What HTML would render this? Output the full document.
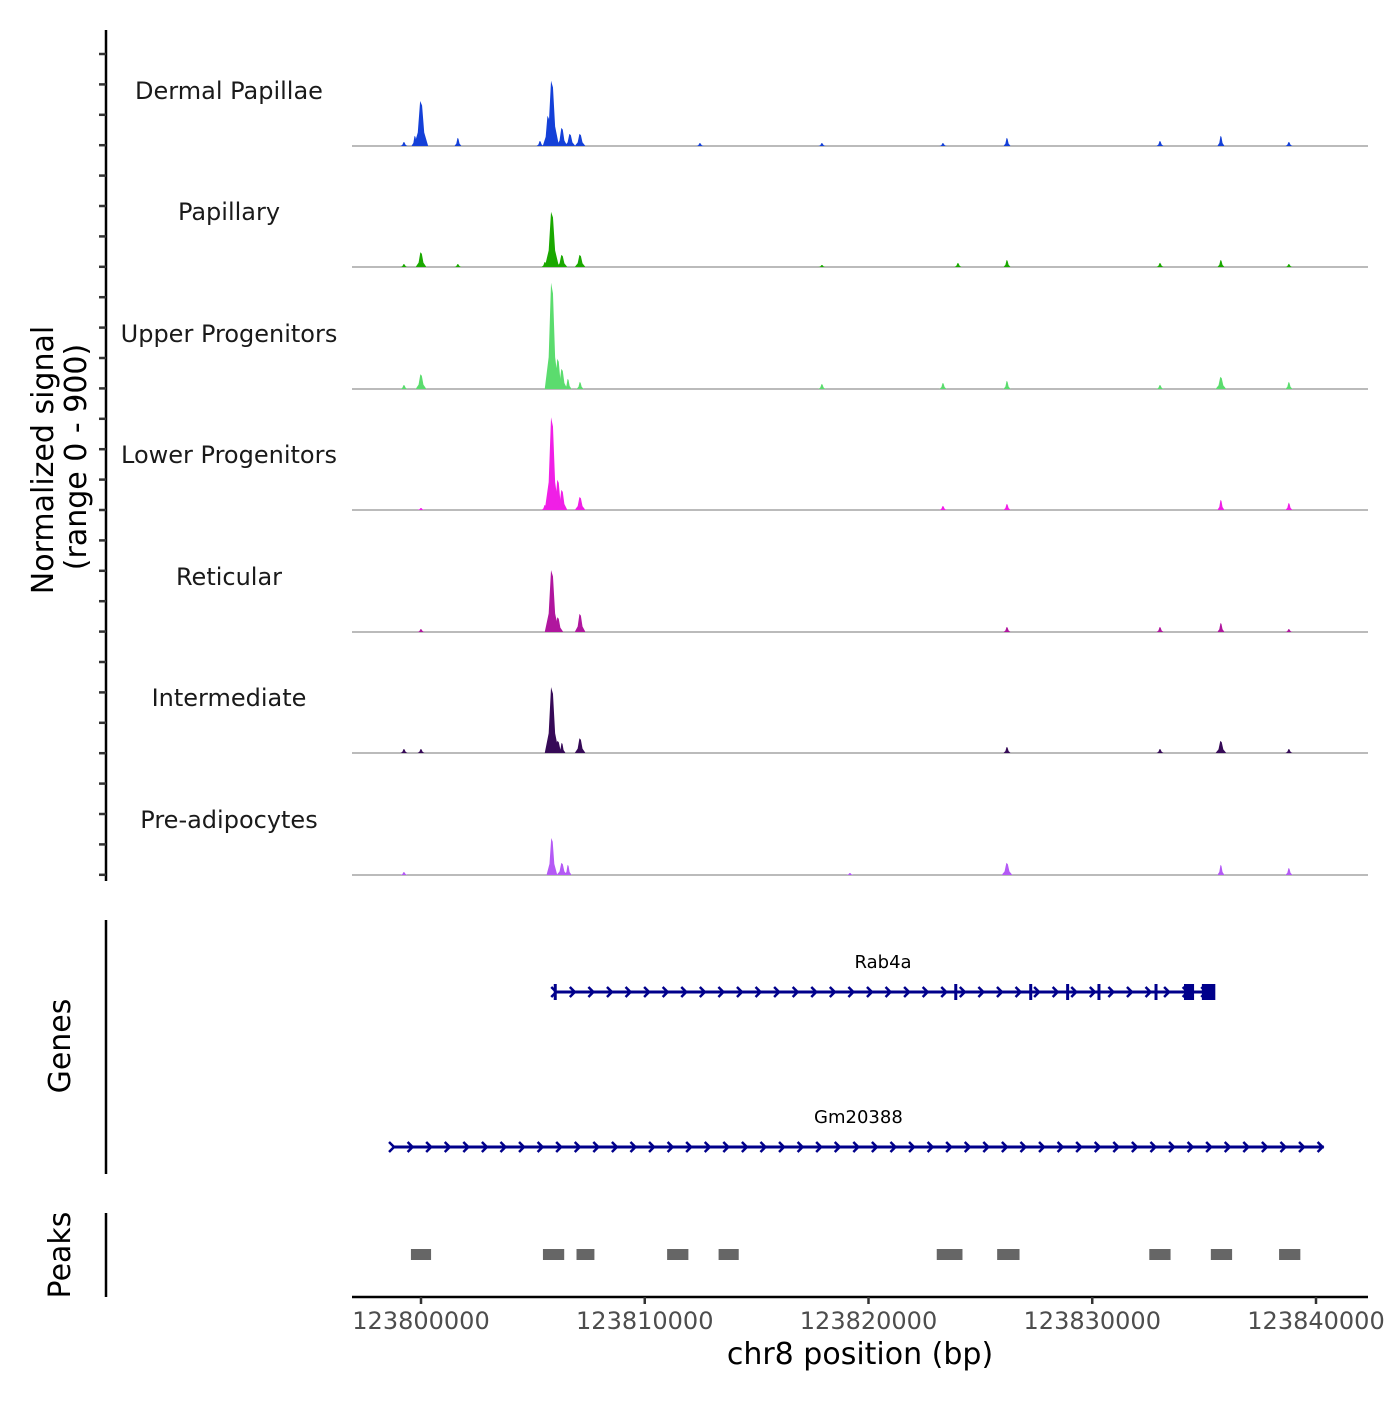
<!DOCTYPE html>
<html><head><meta charset="utf-8">
<style>
html,body{margin:0;padding:0;background:#fff;}
svg text{font-family:"DejaVu Sans","Liberation Sans",sans-serif;}
</style></head>
<body>
<svg id="chart" width="1400" height="1400" viewBox="0 0 1400 1400" xmlns="http://www.w3.org/2000/svg">
<g id="tracks"></g>
<g id="genes"></g>
<g id="peaks"></g>
<g id="axes"></g>
</svg>
<script>
// ---- data (positions in kb relative to 123800000, values in normalized signal 0-900) ----
const trackNames = ["Dermal Papillae","Papillary","Upper Progenitors","Lower Progenitors","Reticular","Intermediate","Pre-adipocytes"];
const trackColors = ["#1440d8","#1aa800","#5bdc6e","#f01fe6","#b0169e","#360a57","#b45af5"];
const peakPos = [
 [-0.76,-0.27,0,1.65,5.32,5.68,5.85,6.3,6.66,7.11,12.47,17.92,23.33,26.19,33.03,35.75,38.79],
 [-0.76,0,1.65,5.54,5.85,6.3,7.11,17.92,24.0,26.19,33.03,35.75,38.79],
 [-0.76,0,5.85,6.12,6.3,6.57,7.11,17.92,23.33,26.19,33.03,35.75,38.79],
 [0,5.54,5.85,6.12,6.3,7.11,23.33,26.19,35.75,38.79],
 [0,5.85,6.12,7.11,26.19,33.03,35.75,38.79],
 [-0.76,0,5.85,6.12,6.3,7.11,26.19,33.03,35.75,38.79],
 [-0.76,5.85,6.3,6.57,19.17,26.19,35.75,38.79]
];
const peakVal = [
 [30,75,335,60,37,225,485,135,90,90,22,22,22,60,37,75,30],
 [22,110,22,37,410,90,90,15,30,52,30,52,22],
 [30,110,790,225,150,75,52,37,45,60,30,90,52],
 [15,37,690,225,150,97,30,45,75,52],
 [22,460,110,135,37,37,67,22],
 [30,30,490,90,75,110,45,30,90,30],
 [22,275,90,75,15,90,75,52]
];
const genes = [
 {name:"Rab4a", start:6.0, end:35.3, exons:[6.0,23.9,27.25,28.9,30.3,32.85], boxes:[[34.1,34.55],[34.9,35.5]]},
 {name:"Gm20388", start:-1.25, end:40.35, exons:[], boxes:[]}
];
const peakStarts = [-0.45,5.45,6.95,11.0,13.3,23.05,25.75,32.55,35.3,38.35];
const peakEnds   = [0.45,6.4,7.75,11.95,14.2,24.2,26.75,33.5,36.25,39.3];
const xTicks = [0,10,20,30,40];
const xTickLabels = ["123800000","123810000","123820000","123830000","123840000"];

// ---- scales ----
const NS="http://www.w3.org/2000/svg";
const X0=421, PXKB=22.375;
const x = kb => X0 + kb*PXKB;
const baselines=[146,267,389,510,632,753,875];
const YMAX=900, TH=121;
const y = (v,i) => baselines[i] - v/YMAX*TH;
function mk(tag,attrs,parent){const e=document.createElementNS(NS,tag);for(const k in attrs)e.setAttribute(k,attrs[k]);parent.appendChild(e);return e;}

const tracks=document.getElementById('tracks');
trackNames.forEach((nm,i)=>{
  const g=mk('g',{},tracks);
  
  
  const bl=mk('line',{x1:352,x2:1368,y1:baselines[i],y2:baselines[i],stroke:'#777','stroke-width':1},g);
  
  
  peakPos[i].forEach((p,j)=>{
    const v=peakVal[i][j];
    const w = v>300?0.32:(v>80?0.24:0.16);
    const d=`M${x(p-w)},${baselines[i]} L${x(p-w*0.45)},${y(v*0.3,i)} L${x(p-w*0.12)},${y(v,i)} L${x(p+w*0.15)},${y(v*0.9,i)} L${x(p+w*0.45)},${y(v*0.3,i)} L${x(p+w)},${baselines[i]} Z`;
    const pa=mk('path',{d:d,fill:trackColors[i]},g);
    
    
  });
  const t=mk('text',{x:229,y:baselines[i]-47,'font-size':24,'text-anchor':'middle',fill:'#1a1a1a'},g);
  t.textContent=nm;
  
  
});

// genes
const gG=document.getElementById('genes');
const geneY=[992,1147];
const blue='#00008b';
genes.forEach((gn,i)=>{
  const g=mk('g',{},gG);
  
  
  const gy=geneY[i];
  mk('line',{x1:x(gn.start),x2:x(gn.end),y1:gy,y2:gy,stroke:blue,'stroke-width':3},g);
  for(let kb=gn.start; kb<=gn.end+0.01; kb+=0.83){
    const cx=x(kb);
    mk('path',{d:`M${cx-4},${gy-5} L${cx+1},${gy} L${cx-4},${gy+5}`,stroke:blue,'stroke-width':2.5,fill:'none'},g);
  }
  gn.exons.forEach(e=>mk('line',{x1:x(e),x2:x(e),y1:gy-8,y2:gy+8,stroke:blue,'stroke-width':3},g));
  gn.boxes.forEach(b=>mk('rect',{x:x(b[0]),y:gy-8,width:x(b[1])-x(b[0]),height:16,fill:blue},g));
  const t=mk('text',{x:(x(gn.start)+x(gn.end))/2,y:gy-24,'font-size':18,'text-anchor':'middle',fill:'#000'},g);
  t.textContent=gn.name;
  
  
});

// peaks
const pG=document.getElementById('peaks');
peakStarts.forEach((s,i)=>{
  const r=mk('rect',{x:x(s),y:1249,width:x(peakEnds[i])-x(s),height:11,fill:'#666'},pG);
  
  
});

// axes
const A=document.getElementById('axes');
let l=mk('line',{x1:106,x2:106,y1:30,y2:881,stroke:'#000','stroke-width':2.5},A);


for(let k=0;k<28;k++){const ty=54+k*30.4;mk('line',{x1:99,x2:106,y1:ty,y2:ty,stroke:'#333','stroke-width':2.5},A);}
l=mk('line',{x1:106,x2:106,y1:920,y2:1174,stroke:'#000','stroke-width':2.5},A);


l=mk('line',{x1:106,x2:106,y1:1213,y2:1297,stroke:'#000','stroke-width':2.5},A);


l=mk('line',{x1:352,x2:1368,y1:1297,y2:1297,stroke:'#000','stroke-width':2.5},A);


xTicks.forEach((tk,i)=>{
  mk('line',{x1:x(tk),x2:x(tk),y1:1297,y2:1304,stroke:'#333','stroke-width':2.5},A);
  const t=mk('text',{x:x(tk),y:1329,'font-size':24,'text-anchor':'middle',fill:'#4d4d4d'},A);
  t.textContent=xTickLabels[i];
  
  
});
let t=mk('text',{x:860,y:1364,'font-size':30,'text-anchor':'middle',fill:'#000'},A);
t.textContent='chr8 position (bp)';


t=mk('text',{x:0,y:0,'font-size':30,'text-anchor':'middle',fill:'#000',transform:'translate(53,460) rotate(-90)'},A);
t.textContent='Normalized signal';


t=mk('text',{x:0,y:0,'font-size':30,'text-anchor':'middle',fill:'#000',transform:'translate(86,457) rotate(-90)'},A);
t.textContent='(range 0 - 900)';


t=mk('text',{x:0,y:0,'font-size':30,'text-anchor':'middle',fill:'#000',transform:'translate(70,1046) rotate(-90)'},A);
t.textContent='Genes';


t=mk('text',{x:0,y:0,'font-size':30,'text-anchor':'middle',fill:'#000',transform:'translate(70,1255) rotate(-90)'},A);
t.textContent='Peaks';


</script>
</body></html>
